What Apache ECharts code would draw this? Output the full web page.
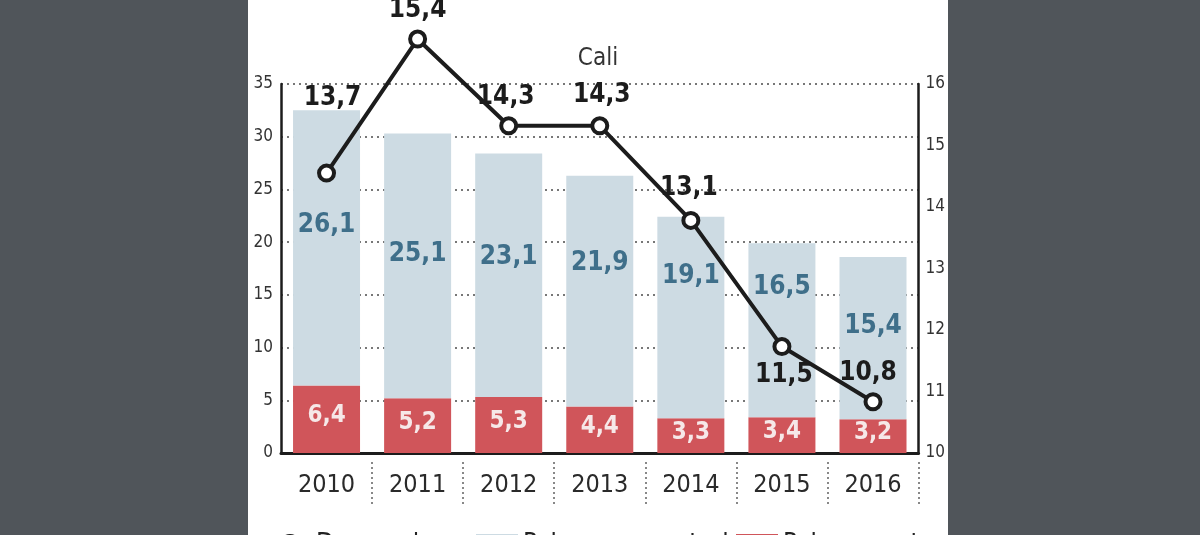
<!DOCTYPE html>
<html>
<head>
<meta charset="utf-8">
<script src="https://cdn.jsdelivr.net/npm/echarts@6/dist/echarts.min.js"></script>
<style>
  html, body { margin: 0; padding: 0; background: #50555a; }
  #panel { position: absolute; left: 248px; top: 0; width: 700px; height: 535px; background: #fff; }
</style>
</head>
<body>
<div id="panel"></div>
<script>
// data
const years = ["2010", "2011", "2012", "2013", "2014", "2015", "2016"];
const desempleo = [13.7, 15.4, 14.3, 14.3, 13.1, 11.5, 10.8];
const pobrezaMonetaria = [26.1, 25.1, 23.1, 21.9, 19.1, 16.5, 15.4];
const pobrezaExtrema = [6.4, 5.2, 5.3, 4.4, 3.3, 3.4, 3.2];
const separatorTicks = [1, 2, 3, 4, 5, 6, 7];

// label placement (layout only)
const blueLabelDy = [-23, -12, -18, -28, -41, -43, -12];
const lineLabelPos = ["top", "top", "top", "top", "top", "bottom", "top"];
const lineLabelOffset = [[6, -46], [0, 0], [-3, 0], [2, -2], [-2, -4], [2, 0], [-5, 0]];

const FONT = '"Liberation Sans Narrow", "DejaVu Sans Condensed", "Roboto Condensed", "Arial Narrow", sans-serif';
const INK = "#1c1c1c";
const comma = v => String(v).replace(".", ",");

const chart = echarts.init(document.getElementById("panel"));

chart.setOption({
    animation: false,
    textStyle: { fontFamily: FONT },
    title: {
        text: "Cali",
        left: "center",
        top: 42,
        textStyle: { fontFamily: FONT, fontSize: 24, fontWeight: "normal", color: "#333" }
    },
    legend: [
        { data: [{ name: "Desempleo", icon: "circle", itemStyle: { color: INK, borderWidth: 0 } }], left: 26 },
        { data: [{ name: "Pobreza monetaria", icon: "rect" }], left: 223 },
        { data: [{ name: "Pobreza extrema", icon: "rect" }], left: 483 }
    ].map(l => Object.assign(l, {
        top: 527, itemWidth: 42, itemHeight: 22, itemGap: 0,
        textStyle: { fontFamily: FONT, fontSize: 26, color: "#222" }
    })),
    grid: { left: 33, right: 23, top: 84, bottom: 82, containLabel: false },
    xAxis: [
        {
            type: "category",
            data: years,
            axisLine: { lineStyle: { color: INK, width: 3 } },
            axisTick: { show: false },
            axisLabel: { fontFamily: FONT, fontSize: 25, color: "#2a2a2a", margin: 20 }
        },
        {
            type: "value",
            min: 0,
            max: 7,
            position: "bottom",
            offset: 9,
            axisLine: { show: false },
            axisLabel: { show: false },
            splitLine: { show: false },
            axisTick: {
                show: true,
                customValues: separatorTicks,
                length: 44,
                lineStyle: { color: "#888", width: 2, type: [2, 3] }
            }
        }
    ],
    yAxis: [
        {
            type: "value",
            min: 0,
            max: 35,
            interval: 5,
            axisLine: { show: true, lineStyle: { color: INK, width: 2.5 } },
            axisTick: { show: false },
            axisLabel: { fontFamily: FONT, fontSize: 17, color: "#333", margin: 8 },
            splitLine: { show: true, lineStyle: { color: "#777", width: 2, type: [2, 4] } }
        },
        {
            type: "value",
            position: "right",
            min: 10,
            max: 16,
            interval: 1,
            axisLine: { show: true, lineStyle: { color: INK, width: 2.5 } },
            axisTick: { show: false },
            axisLabel: { fontFamily: FONT, fontSize: 17, color: "#333", margin: 7 },
            splitLine: { show: false }
        },
        {
            // scale the line is actually plotted on
            type: "value",
            show: false,
            min: 10.15,
            max: 14.83,
            splitLine: { show: false }
        }
    ],
    series: [
        {
            name: "Pobreza extrema",
            type: "bar",
            stack: "pobreza",
            barWidth: 67,
            data: pobrezaExtrema,
            itemStyle: { color: "#d0555a" },
            label: {
                show: true,
                position: "inside",
                offset: [0, -3],
                formatter: p => comma(p.value),
                fontFamily: FONT, fontSize: 24, fontWeight: "bold", color: "#f6e8e8"
            }
        },
        {
            name: "Pobreza monetaria",
            type: "bar",
            stack: "pobreza",
            barWidth: 67,
            data: pobrezaMonetaria.map((v, i) => ({
                value: v,
                label: { offset: [0, blueLabelDy[i]] }
            })),
            itemStyle: { color: "#cddbe3" },
            label: {
                show: true,
                position: "inside",
                formatter: p => comma(p.value),
                fontFamily: FONT, fontSize: 26, fontWeight: "bold", color: "#3f6f8a"
            }
        },
        {
            name: "Desempleo",
            type: "line",
            yAxisIndex: 2,
            clip: false,
            z: 5,
            data: desempleo.map((v, i) => ({
                value: v,
                label: { position: lineLabelPos[i], offset: lineLabelOffset[i] }
            })),
            symbol: "circle",
            symbolSize: 15,
            lineStyle: { color: INK, width: 4 },
            itemStyle: { color: "#fff", borderColor: INK, borderWidth: 4 },
            label: {
                show: true,
                distance: 6,
                formatter: p => comma(p.value),
                fontFamily: FONT, fontSize: 26, fontWeight: "bold", color: INK
            }
        }
    ]
});
</script>
</body>
</html>
